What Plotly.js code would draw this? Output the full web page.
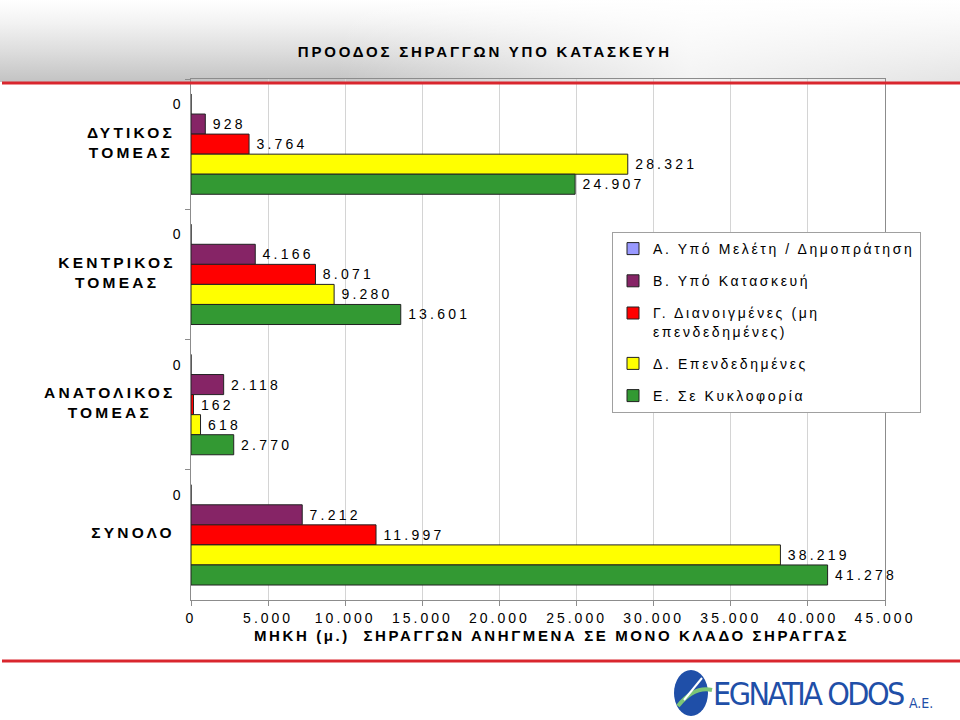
<!DOCTYPE html>
<html><head><meta charset="utf-8">
<script src="https://cdn.plot.ly/plotly-3.0.1.min.js"></script>
<style>
html,body{margin:0;padding:0;background:#fff;}
#chart{width:960px;height:720px;
 background:
  linear-gradient(to right, rgba(255,255,255,0) 0%, rgba(255,255,255,0) 35%, rgba(255,255,255,0.8) 72%, rgba(255,255,255,0.55) 100%) 0 0/100% 82px no-repeat,
  linear-gradient(to bottom, #ffffff 0px, #f3f3f3 22px, #dedede 50px, #c3c3c3 82px) 0 0/100% 82px no-repeat,
  #ffffff;}
svg text{letter-spacing:2.6px;}
svg text.bartext, svg .annotation text{letter-spacing:3.2px;}
svg .xtick text{letter-spacing:3px;}
svg .gtitle{letter-spacing:2.8px;}
</style></head>
<body><div id="chart"></div>
<script>
const categories = ["ΔΥΤΙΚΟΣ ΤΟΜΕΑΣ", "ΚΕΝΤΡΙΚΟΣ ΤΟΜΕΑΣ", "ΑΝΑΤΟΛΙΚΟΣ ΤΟΜΕΑΣ", "ΣΥΝΟΛΟ"];
const categoryLabels = ["ΔΥΤΙΚΟΣ<br>ΤΟΜΕΑΣ", "ΚΕΝΤΡΙΚΟΣ<br>ΤΟΜΕΑΣ", "ΑΝΑΤΟΛΙΚΟΣ<br>ΤΟΜΕΑΣ", "ΣΥΝΟΛΟ"];
const seriesNames = ["Α. Υπό Μελέτη / Δημοπράτηση", "Β. Υπό Κατασκευή", "Γ. Διανοιγμένες (μη<br>επενδεδημένες)", "Δ. Επενδεδημένες", "Ε. Σε Κυκλοφορία"];
const valuesA = [0, 0, 0, 0];
const valuesB = [928, 4166, 2118, 7212];
const valuesG = [3764, 8071, 162, 11997];
const valuesD = [28321, 9280, 618, 38219];
const valuesE = [24907, 13601, 2770, 41278];
const xTickVals = [0, 5000, 10000, 15000, 20000, 25000, 30000, 35000, 40000, 45000];
const chartTitle = "ΠΡΟΟΔΟΣ ΣΗΡΑΓΓΩΝ ΥΠΟ ΚΑΤΑΣΚΕΥΗ";
const xTitle = "ΜΗΚΗ (μ.)&nbsp; ΣΗΡΑΓΓΩΝ ΑΝΗΓΜΕΝΑ ΣΕ ΜΟΝΟ ΚΛΑΔΟ ΣΗΡΑΓΓΑΣ";

const colors = ["#9999ff", "#862466", "#ff0000", "#ffff00", "#339933"];
const allValues = [valuesA, valuesB, valuesG, valuesD, valuesE];
const BARGAP = 0.23;
const fmt = v => String(v).replace(/\B(?=(\d{3})+(?!\d))/g, ".");
const FONT = "Liberation Sans, Arial, sans-serif";

const traces = allValues.map((vals, k) => ({
  type: "bar", orientation: "h",
  x: vals, y: categories,
  name: seriesNames[k],
  legendgroup: "g" + k,
  marker: {color: colors[k], line: {color: "#222", width: 1}},
  text: k === 0 ? vals.map(() => "") : vals.map(v => "\u200A" + fmt(v)),
  textposition: "outside",
  constraintext: "none",
  cliponaxis: false,
  textfont: {family: FONT, size: 14, color: "#000"},
  hoverinfo: "x+name"
}));

// labels for series A (zero values) drawn left of the axis, at the A-bar slot
const nSeries = allValues.length;
const slot = (1 - BARGAP) / nSeries;
const aLabels = categories.map((c, i) => ({
  xref: "x", yref: "y", x: valuesA[i], y: i - 2 * slot,
  text: fmt(valuesA[i]), showarrow: false, xanchor: "right", xshift: -6,
  font: {family: FONT, size: 14, color: "#000"}
}));
// category labels, centred lines, right of the box at the axis
const catLabels = categories.map((c, i) => ({
  xref: "paper", yref: "y", x: 0, y: c, yshift: 2,
  text: "<b>" + categoryLabels[i] + "</b>", showarrow: false, xanchor: "right", align: "center",
  xshift: -16, font: {family: FONT, size: 15.5, color: "#000"}
}));

const px = p => (p - 191) / 694;
const py = p => 1 - (p - 79) / 521;
const LOGOFONT = "Liberation Sans Narrow, DejaVu Sans Condensed, Arial Narrow, Liberation Sans, sans-serif";

const layout = {
  width: 960, height: 720,
  margin: {l: 191, r: 75, t: 79, b: 120},
  paper_bgcolor: "rgba(0,0,0,0)",
  plot_bgcolor: "rgba(0,0,0,0)",
  separators: ",.",
  barmode: "group", bargap: BARGAP, bargroupgap: 0,
  font: {family: FONT, color: "#000"},
  title: {text: "<b>" + chartTitle + "</b>", font: {family: FONT, size: 15, color: "#000"},
          xref: "container", x: 0.505, xanchor: "center", yref: "container", y: 1 - 52/720, yanchor: "middle"},
  xaxis: {
    range: [0, 45000], tickvals: xTickVals, ticktext: xTickVals.map(fmt),
    showgrid: true, gridcolor: "#d4d4d4", gridwidth: 1,
    showline: true, linecolor: "#8c8c8c", linewidth: 1, mirror: true,
    ticks: "outside", ticklen: 5, tickcolor: "#8c8c8c",
    tickfont: {family: FONT, size: 14, color: "#000"},
    zeroline: false,
    title: {text: "<b>&nbsp;&nbsp;&nbsp;&nbsp;" + xTitle + "</b>", font: {family: FONT, size: 15, color: "#000"}, standoff: 5}
  },
  yaxis: {
    type: "category", autorange: "reversed",
    showticklabels: false,
    tickson: "boundaries", ticks: "outside", ticklen: 5, tickcolor: "#8c8c8c",
    showline: true, linecolor: "#8c8c8c", linewidth: 1, mirror: true,
    showgrid: false, zeroline: false
  },
  legend: {
    x: px(612), y: py(232), xanchor: "left", yanchor: "top",
    bgcolor: "#ffffff", bordercolor: "#a0a0a0", borderwidth: 1,
    traceorder: "grouped", tracegroupgap: 11, valign: "top",
    font: {family: FONT, size: 14, color: "#000"}
  },
  shapes: [
    {type: "line", xref: "paper", yref: "paper", x0: px(2), x1: px(960), y0: py(83), y1: py(83),
     line: {color: "#d9262e", width: 3}, layer: "above"},
    {type: "line", xref: "paper", yref: "paper", x0: px(2), x1: px(960), y0: py(661), y1: py(661),
     line: {color: "#d9262e", width: 3}, layer: "above"},
    {type: "circle", xref: "paper", yref: "paper", x0: px(674), x1: px(708), y0: py(716), y1: py(670),
     fillcolor: "#1f4fa8", line: {width: 0}},
    {type: "path", xref: "paper", yref: "paper",
     path: `M ${px(678)},${py(706)} Q ${px(694)},${py(686)} ${px(712)},${py(690)}`,
     line: {color: "#7cc576", width: 4}},
    {type: "path", xref: "paper", yref: "paper",
     path: `M ${px(684)},${py(700)} L ${px(702)},${py(678)}`,
     line: {color: "#ffffff", width: 2}}
  ],
  annotations: aLabels.concat(catLabels, [
    {xref: "paper", yref: "paper", x: px(711), y: py(694), xanchor: "left", yanchor: "middle", showarrow: false,
     text: '<span style="letter-spacing:-2.5px">EGNATIA ODOS</span>',
     font: {family: LOGOFONT, size: 32, color: "#1f4fa8"}},
    {xref: "paper", yref: "paper", x: px(907), y: py(713), xanchor: "left", yanchor: "bottom", showarrow: false,
     text: '<span style="letter-spacing:0px">A.E.</span>',
     font: {family: LOGOFONT, size: 14, color: "#1f4fa8"}}
  ])
};

Plotly.newPlot("chart", traces, layout, {displayModeBar: false, responsive: false});
</script>
</body></html>
